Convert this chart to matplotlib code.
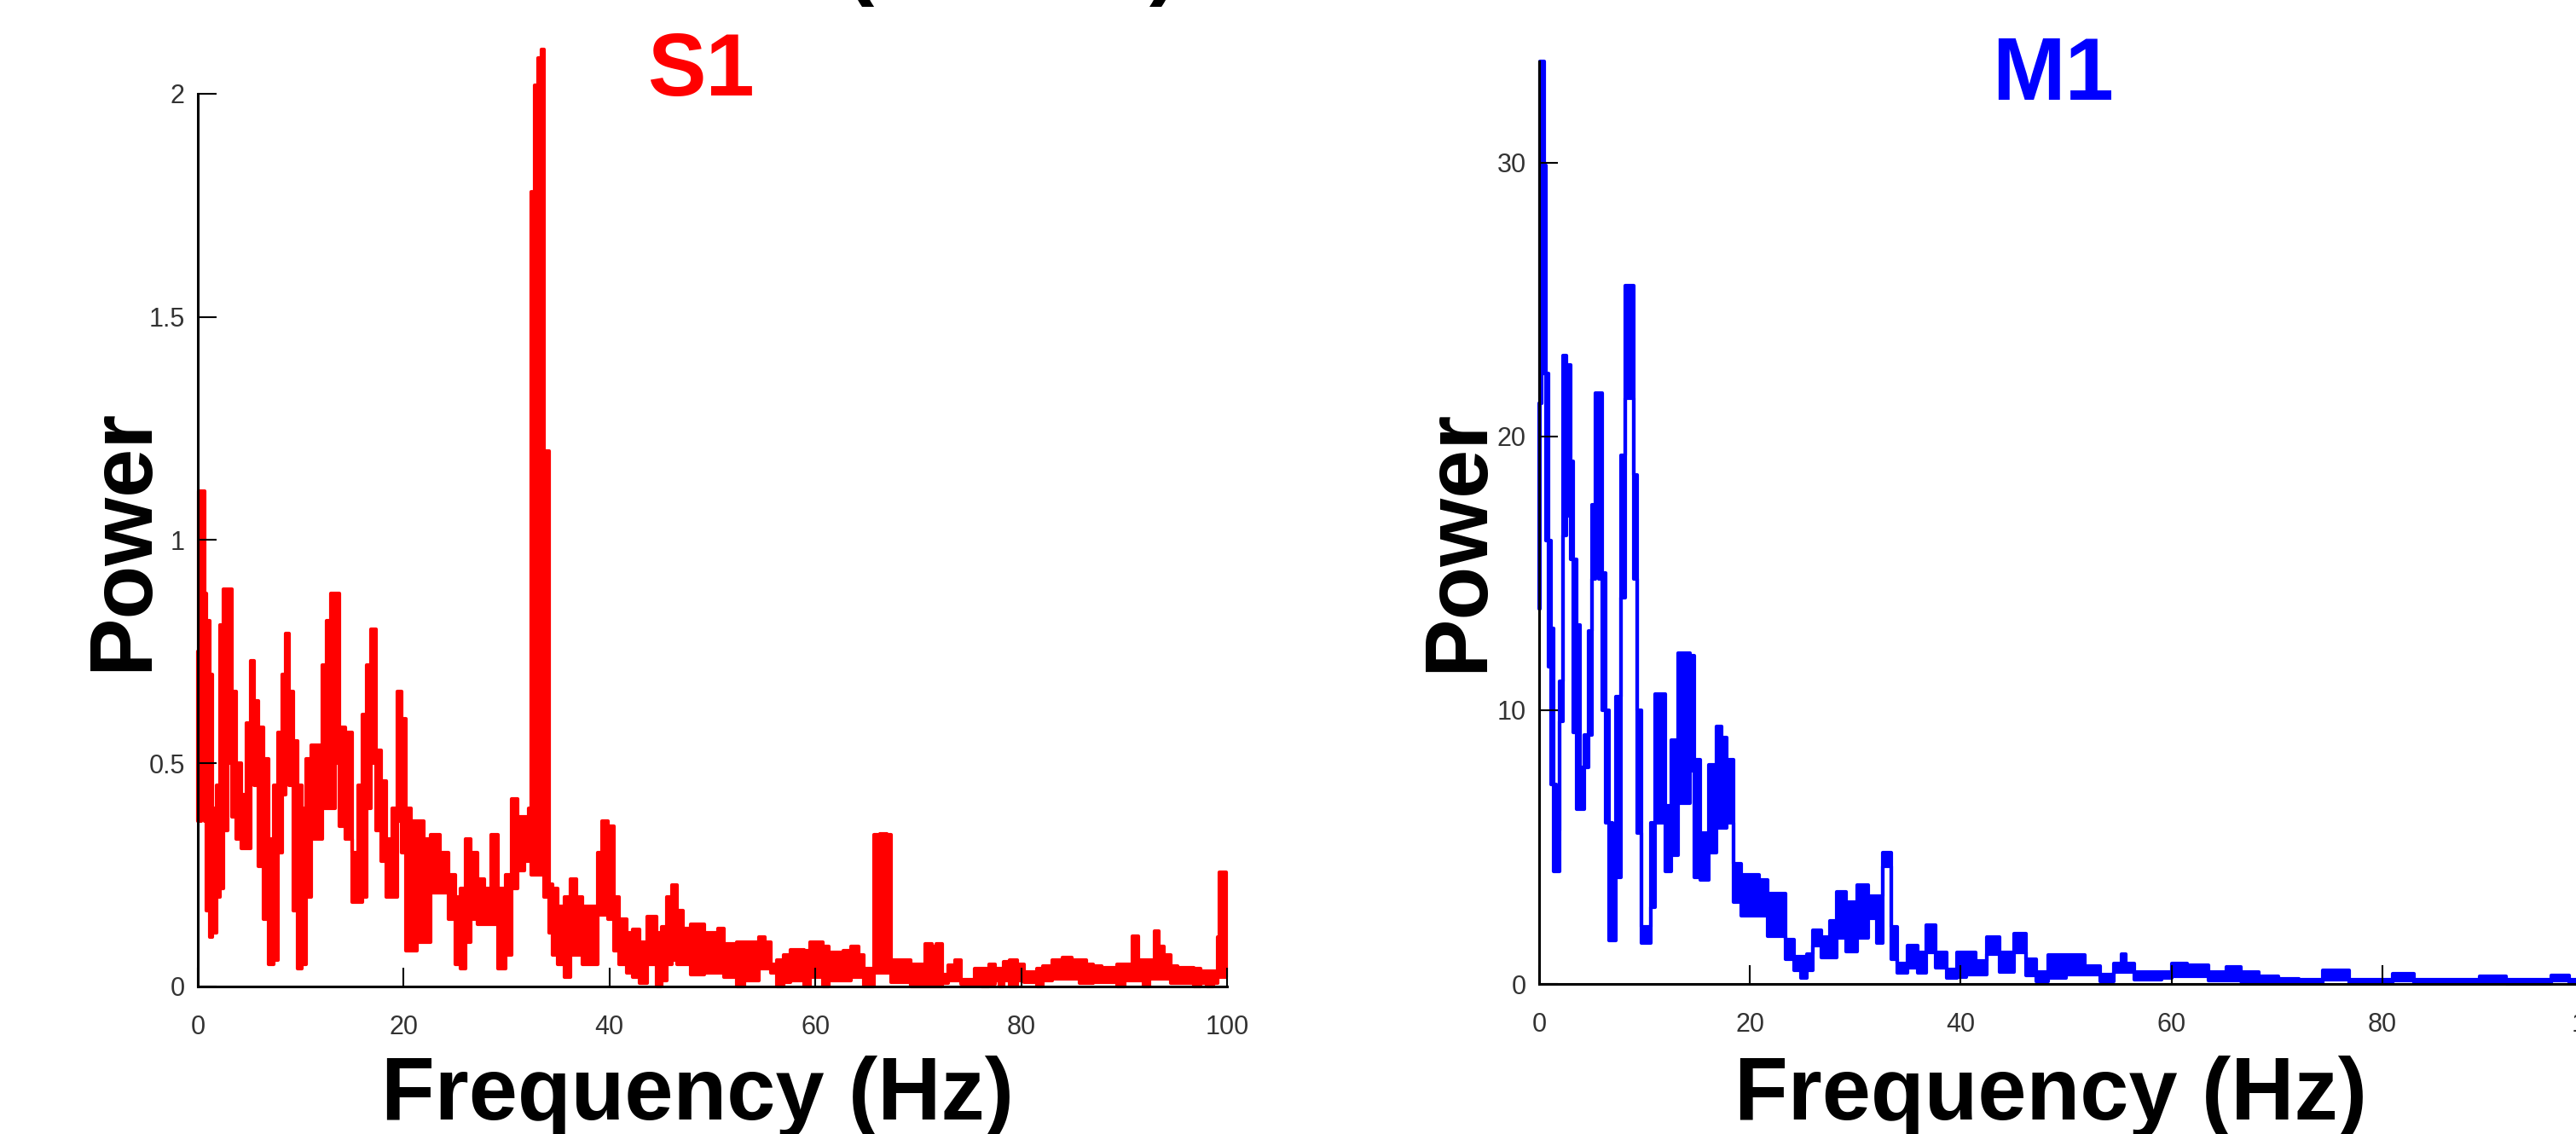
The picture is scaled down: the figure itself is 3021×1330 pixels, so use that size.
import matplotlib
matplotlib.use("Agg")
import matplotlib.pyplot as plt

# S1 power spectrum (lower / upper edge of the trace)
s1_freq = [0.0, 0.15, 0.55, 0.7, 1.0, 1.25, 1.6, 2.0, 2.3, 2.7, 3.1, 3.5, 4.0, 4.5, 4.9, 5.3, 5.7, 6.1,
           6.6, 7.1, 7.6, 8.0, 8.4, 8.7, 9.1, 9.5, 9.9, 10.3, 10.8, 11.2, 11.8, 12.4, 12.7, 13.1, 13.5,
           14.0, 14.7, 15.3, 15.8, 16.2, 16.6, 17.0, 17.6, 18.1, 18.6, 19.1, 19.6, 20.0, 20.5, 21.0,
           21.6, 22.3, 23.0, 24.0, 24.7, 25.3, 25.8, 26.3, 26.8, 27.5, 28.2, 28.8, 29.6, 30.3, 30.7,
           31.4, 32.0, 32.3, 32.55, 32.85, 33.2, 33.5, 33.8, 34.05, 34.3, 34.7, 35.3, 35.9, 36.5, 37.0,
           37.8, 38.6, 39.1, 39.5, 40.2, 40.6, 41.3, 42.0, 42.5, 43.3, 44.0, 44.3, 44.9, 45.3, 45.8,
           46.3, 46.8, 47.5, 48.2, 48.9, 49.6, 50.3, 50.8, 51.4, 52.1, 52.7, 53.5, 54.2, 54.8, 55.4,
           56.0, 56.6, 57.3, 57.9, 58.7, 59.2, 59.8, 60.4, 61.0, 61.6, 62.4, 63.1, 63.9, 64.5, 65.0,
           65.5, 65.9, 66.6, 67.3, 67.5, 68.2, 69.0, 69.6, 70.3, 71.1, 71.5, 72.0, 72.6, 73.3, 73.8,
           74.5, 75.2, 75.8, 76.5, 77.2, 77.8, 78.0, 78.6, 79.2, 80.0, 80.5, 81.3, 81.7, 82.5, 83.5,
           84.5, 85.4, 86.0, 86.6, 87.4, 88.3, 89.0, 89.7, 90.5, 91.2, 91.6, 92.1, 92.8, 93.2, 93.6,
           94.2, 94.8, 95.6, 96.5, 97.0, 97.8, 98.3, 99.0, 99.15, 99.4, 99.9]
s1_low = [0.37, 0.37, 0.53, 0.37, 0.17, 0.11, 0.12, 0.20, 0.22, 0.35, 0.50, 0.38, 0.33, 0.31, 0.31, 0.50,
          0.45, 0.27, 0.15, 0.05, 0.06, 0.30, 0.43, 0.54, 0.45, 0.17, 0.04, 0.05, 0.20, 0.33, 0.33,
          0.40, 0.40, 0.40, 0.50, 0.36, 0.33, 0.19, 0.19, 0.20, 0.40, 0.50, 0.35, 0.28, 0.20, 0.20,
          0.37, 0.30, 0.08, 0.08, 0.10, 0.10, 0.21, 0.21, 0.15, 0.05, 0.04, 0.10, 0.15, 0.14, 0.14,
          0.14, 0.04, 0.07, 0.22, 0.26, 0.28, 0.28, 0.25, 0.25, 0.25, 0.25, 0.20, 0.20, 0.12, 0.07,
          0.05, 0.02, 0.07, 0.07, 0.05, 0.05, 0.16, 0.16, 0.15, 0.08, 0.05, 0.03, 0.02, 0.007, 0.05,
          0.05, 0.0, 0.013, 0.05, 0.06, 0.05, 0.05, 0.026, 0.026, 0.03, 0.03, 0.03, 0.02, 0.02, 0.0,
          0.013, 0.013, 0.04, 0.04, 0.03, 0.0, 0.01, 0.013, 0.013, 0.0, 0.02, 0.02, 0.0, 0.013, 0.013,
          0.013, 0.02, 0.02, 0.0, 0.0, 0.03, 0.03, 0.03, 0.01, 0.01, 0.01, 0.0, 0.0, 0.0, 0.0, 0.0,
          0.008, 0.014, 0.014, 0.005, 0.005, 0.005, 0.0, 0.005, 0.014, 0.0, 0.014, 0.0, 0.014, 0.01,
          0.01, 0.0, 0.014, 0.017, 0.017, 0.017, 0.008, 0.008, 0.01, 0.01, 0.01, 0.0, 0.014, 0.014,
          0.014, 0.0, 0.017, 0.017, 0.017, 0.017, 0.008, 0.008, 0.008, 0.0, 0.008, 0.0, 0.008, 0.02,
          0.02, 0.02]
s1_high = [0.75, 1.11, 1.11, 0.88, 0.82, 0.70, 0.40, 0.45, 0.81, 0.89, 0.89, 0.66, 0.50, 0.43, 0.59, 0.73,
           0.64, 0.58, 0.51, 0.33, 0.45, 0.57, 0.70, 0.79, 0.66, 0.55, 0.45, 0.40, 0.51, 0.54, 0.54,
           0.72, 0.82, 0.88, 0.88, 0.58, 0.57, 0.30, 0.45, 0.61, 0.72, 0.80, 0.53, 0.46, 0.33, 0.40,
           0.66, 0.60, 0.40, 0.37, 0.37, 0.33, 0.34, 0.30, 0.25, 0.20, 0.22, 0.33, 0.30, 0.24, 0.22,
           0.34, 0.22, 0.25, 0.42, 0.38, 0.38, 0.40, 1.78, 2.02, 2.08, 2.10, 1.20, 1.20, 0.23, 0.22,
           0.18, 0.20, 0.24, 0.20, 0.18, 0.18, 0.30, 0.37, 0.36, 0.20, 0.15, 0.12, 0.128, 0.099,
           0.156, 0.156, 0.12, 0.134, 0.20, 0.227, 0.17, 0.13, 0.14, 0.14, 0.12, 0.12, 0.13, 0.096,
           0.096, 0.10, 0.10, 0.10, 0.11, 0.10, 0.05, 0.06, 0.07, 0.083, 0.083, 0.08, 0.10, 0.10, 0.09,
           0.077, 0.077, 0.08, 0.09, 0.07, 0.04, 0.04, 0.34, 0.341, 0.34, 0.06, 0.06, 0.06, 0.05, 0.05,
           0.096, 0.09, 0.096, 0.026, 0.048, 0.06, 0.016, 0.016, 0.04, 0.04, 0.05, 0.04, 0.04, 0.055,
           0.06, 0.05, 0.032, 0.032, 0.04, 0.045, 0.06, 0.065, 0.06, 0.06, 0.05, 0.045, 0.042, 0.042,
           0.05, 0.05, 0.112, 0.06, 0.06, 0.06, 0.125, 0.09, 0.07, 0.045, 0.042, 0.042, 0.04, 0.035,
           0.035, 0.035, 0.11, 0.255, 0.255]

# M1 power spectrum
m1_freq = [0.0, 0.1, 0.4, 0.55, 0.8, 1.0, 1.2, 1.5, 1.8, 2.1, 2.4, 2.8, 3.1, 3.4, 3.7, 4.1, 4.5, 4.8,
           5.2, 5.5, 5.8, 6.1, 6.5, 6.8, 7.1, 7.5, 8.0, 8.4, 8.8, 9.1, 9.5, 9.9, 10.4, 10.8, 11.2,
           11.7, 12.2, 12.9, 13.5, 14.1, 14.5, 14.9, 15.7, 16.5, 17.1, 17.5, 18.1, 18.8, 19.5, 20.5,
           21.3, 22.0, 23.0, 23.7, 24.6, 25.1, 25.7, 26.3, 27.3, 27.9, 28.6, 29.6, 30.7, 31.8, 32.3,
           32.9, 33.3, 33.6, 34.4, 35.5, 36.3, 37.1, 38.1, 39.2, 40.1, 41.0, 41.9, 43.0, 44.4, 45.7,
           46.7, 47.6, 49.0, 51.0, 52.6, 53.8, 55.2, 55.4, 56.0, 57.0, 58.5, 59.7, 60.4, 62.5, 64.6,
           65.9, 67.3, 69.2, 71.1, 73.0, 75.7, 78.0, 80.0, 82.0, 84.0, 86.0, 88.0, 90.5, 93.0, 95.0,
           97.0, 98.5, 100.0]
m1_low = [13.7, 21.2, 22.3, 22.3, 16.2, 11.6, 7.3, 4.1, 4.1, 9.6, 16.4, 17.1, 15.5, 9.2, 6.4, 6.4, 7.9,
          9.1, 14.8, 17.5, 14.8, 10.0, 5.9, 1.6, 1.6, 3.9, 14.1, 21.4, 21.4, 14.8, 5.5, 1.5, 1.5, 2.8,
          5.9, 5.9, 4.1, 4.7, 6.6, 6.6, 7.8, 3.9, 3.8, 4.8, 5.7, 5.7, 5.9, 3.0, 2.5, 2.5, 2.5, 1.75,
          1.75, 0.9, 0.5, 0.23, 0.5, 1.4, 0.96, 0.96, 1.68, 1.2, 1.68, 2.4, 1.5, 4.3, 4.3, 0.9, 0.4,
          0.6, 0.4, 1.15, 0.6, 0.23, 0.25, 0.35, 0.35, 1.1, 0.45, 1.15, 0.3, 0.1, 0.23, 0.35, 0.35,
          0.1, 0.44, 0.44, 0.44, 0.17, 0.17, 0.23, 0.28, 0.28, 0.125, 0.125, 0.08, 0.07, 0.02, 0.02,
          0.17, 0.02, 0.02, 0.125, 0.02, 0.02, 0.02, 0.07, 0.0, 0.0, 0.125, 0.02, 0.02]
m1_high = [21.2, 33.7, 33.7, 29.9, 22.3, 16.2, 13.0, 7.3, 5.6, 11.05, 22.96, 22.6, 19.1, 15.5, 13.1,
           7.9, 9.1, 12.9, 17.5, 21.6, 21.6, 15.0, 10.0, 5.9, 4.1, 10.5, 19.3, 25.5, 25.5, 18.6,
           10.0, 2.1, 2.1, 5.9, 10.6, 10.6, 6.5, 8.9, 12.1, 12.1, 12.0, 8.2, 5.5, 8.0, 9.4, 9.0,
           8.2, 4.4, 4.0, 4.0, 3.8, 3.3, 3.3, 1.63, 1.0, 1.0, 1.1, 1.95, 1.7, 2.3, 3.35, 3.0, 3.6,
           3.2, 3.2, 4.8, 4.8, 2.1, 0.75, 1.4, 1.15, 2.15, 1.15, 0.54, 1.15, 1.15, 0.85, 1.7, 1.15,
           1.84, 0.9, 0.44, 1.06, 1.06, 0.64, 0.33, 0.75, 1.1, 0.75, 0.44, 0.44, 0.44, 0.75, 0.70,
           0.44, 0.63, 0.44, 0.28, 0.20, 0.17, 0.49, 0.17, 0.17, 0.38, 0.17, 0.17, 0.17, 0.28, 0.15,
           0.15, 0.31, 0.15, 0.15]

s1_yticks = [0, 0.5, 1, 1.5, 2]
s1_yticklabels = ["0", "0.5", "1", "1.5", "2"]
m1_yticks = [0, 10, 20, 30]
xticks = [0, 20, 40, 60, 80, 100]

plt.rcParams["font.family"] = ["Liberation Sans", "DejaVu Sans"]

fig = plt.figure(figsize=(30.21, 13.30), dpi=100)
fig.patch.set_facecolor("white")

ax1 = fig.add_axes([0.0768, 0.1301, 0.3995, 0.7872])
ax2 = fig.add_axes([0.5975, 0.1323, 0.4091, 0.8135])


def style(ax):
    for side in ["top", "right"]:
        ax.spines[side].set_visible(False)
    for side in ["left", "bottom"]:
        ax.spines[side].set_linewidth(2.2)
        ax.spines[side].set_color("black")
    ax.tick_params(direction="in", length=16, width=1.5, labelsize=22, labelcolor="#333333")
    ax.tick_params(axis="x", pad=24)
    ax.tick_params(axis="y", pad=11)
    ax.set_xlim(0, 100)
    ax.set_xticks(xticks)


ax1.fill_between(s1_freq, s1_low, s1_high, step="mid", color="red", edgecolor="red",
                 linewidth=3, clip_on=False)
style(ax1)
ax1.set_ylim(0, 2)
ax1.set_yticks(s1_yticks)
ax1.set_yticklabels(s1_yticklabels)

ax2.fill_between(m1_freq, m1_low, m1_high, step="mid", color="blue", edgecolor="blue",
                 linewidth=3, clip_on=False)
style(ax2)
ax2.set_ylim(0, max(m1_high))
ax2.set_yticks(m1_yticks)

big = dict(fontsize=74, fontweight="bold")
fig.text(822 / 3021, 1 - 112 / 1330, "S1", color="red", ha="center", va="baseline", **big)
fig.text(2408 / 3021, 1 - 117 / 1330, "M1", color="blue", ha="center", va="baseline", **big)
fig.text(818 / 3021, 1 - 1313 / 1330, "Frequency (Hz)", ha="center", va="baseline", **big)
fig.text(2405 / 3021, 1 - 1313 / 1330, "Frequency (Hz)", ha="center", va="baseline", **big)
fig.text(172 / 3021, 1 - 633 / 1330, "Power", rotation=90, rotation_mode="anchor",
         ha="center", va="baseline", **big)
fig.text(1738 / 3021, 1 - 634 / 1330, "Power", rotation=90, rotation_mode="anchor",
         ha="center", va="baseline", **big)
# main title, mostly cut off by the top edge
fig.text(1187 / 3021, 1 + 14 / 1330, "(Awake)", ha="center", va="baseline", **big)

fig.savefig("out.png", dpi=100, facecolor="white")
